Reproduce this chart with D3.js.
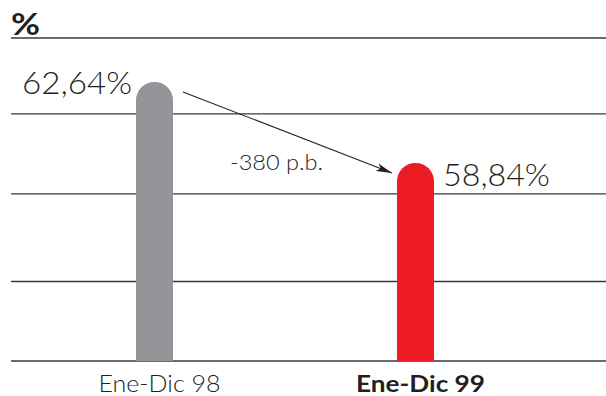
<!DOCTYPE html>
<html>
<head>
<meta charset="utf-8">
<script src="https://cdn.jsdelivr.net/npm/d3@7"></script>
<style>
  html, body { margin: 0; padding: 0; background: #fff; }
  svg { display: block; }
  text { font-family: "Lato", "Open Sans", "Liberation Sans", sans-serif; }
</style>
</head>
<body>
<svg id="chart" width="606" height="396"></svg>
<script>
// Periods compared and their ratio (%)
const categories = ["Ene-Dic 98", "Ene-Dic 99"];
const values = [62.64, 58.84];
const barColors = ["#939598", "#ED1C24"];
// Horizontal rule levels (in % units)
const gridValues = [49.55, 53.28, 57.39, 61.14, 64.70];
const unitLabel = "%";

const W = 606, H = 396;
const svg = d3.select("#chart");

const y = d3.scaleLinear().domain([49.55, 64.70]).range([361, 38]);
const x = d3.scalePoint().domain(categories).range([154.5, 415.5]);
const barW = 37;

const fmt = v => d3.format(".2f")(v).replace(".", ",") + "%";

// grid rules
svg.append("g").selectAll("line").data(gridValues).join("line")
  .attr("x1", 11).attr("x2", W)
  .attr("y1", d => y(d)).attr("y2", d => y(d))
  .attr("stroke", "#3a3a3a").attr("stroke-width", 1.3);

// unit label
svg.append("text").attr("x", 11).attr("y", 35)
  .attr("font-size", 31).attr("font-weight", 700).attr("fill", "#231f20")
  .attr("textLength", 29).attr("lengthAdjust", "spacingAndGlyphs")
  .text(unitLabel);

// bars with a rounded top
const r = barW / 2;
svg.append("g").selectAll("path").data(values).join("path")
  .attr("fill", (d, i) => barColors[i])
  .attr("d", (d, i) => {
    const cx = x(categories[i]), top = y(d), base = y(gridValues[0]);
    const l = cx - r, rt = cx + r;
    return `M${l},${base}V${top + r}A${r},${r} 0 0 1 ${rt},${top + r}V${base}Z`;
  });

// value labels
svg.append("text")
  .attr("x", x(categories[0]) - r - 4).attr("y", y(values[0]) + 12)
  .attr("text-anchor", "end").attr("font-size", 31).attr("font-weight", 300)
  .attr("textLength", 110).attr("lengthAdjust", "spacingAndGlyphs")
  .attr("fill", "#231f20").text(fmt(values[0]));
svg.append("text")
  .attr("x", x(categories[1]) + r + 9).attr("y", y(values[1]) + 23)
  .attr("text-anchor", "start").attr("font-size", 31).attr("font-weight", 300)
  .attr("textLength", 107).attr("lengthAdjust", "spacingAndGlyphs")
  .attr("fill", "#231f20").text(fmt(values[1]));

// category labels
const catWidths = [122, 129];
svg.append("g").selectAll("text").data(categories).join("text")
  .attr("x", d => x(d) + 5).attr("y", 392)
  .attr("text-anchor", "middle").attr("font-size", 23)
  .attr("font-weight", (d, i) => i === 1 ? 700 : 300)
  .attr("textLength", (d, i) => catWidths[i]).attr("lengthAdjust", "spacingAndGlyphs")
  .attr("fill", "#231f20").text(d => d);

// change arrow
const defs = svg.append("defs");
defs.append("marker").attr("id", "head")
  .attr("viewBox", "0 0 16 8").attr("refX", 16).attr("refY", 4)
  .attr("markerWidth", 16).attr("markerHeight", 8)
  .attr("markerUnits", "userSpaceOnUse").attr("orient", "auto")
  .append("path").attr("d", "M0,0L16,4L0,8L4,4Z").attr("fill", "#231f20");

svg.append("line")
  .attr("x1", x(categories[0]) + r + 10).attr("y1", y(values[0]) + 10)
  .attr("x2", x(categories[1]) - r - 5).attr("y2", y(values[1]) + 10)
  .attr("stroke", "#231f20").attr("stroke-width", 1.1)
  .attr("marker-end", "url(#head)");

const bp = Math.round((values[1] - values[0]) * 100);
svg.append("text").attr("x", 230).attr("y", 170)
  .attr("font-size", 21).attr("font-weight", 300).attr("fill", "#231f20")
  .attr("textLength", 93).attr("lengthAdjust", "spacingAndGlyphs")
  .text(`${bp} p.b.`);
</script>
</body>
</html>
